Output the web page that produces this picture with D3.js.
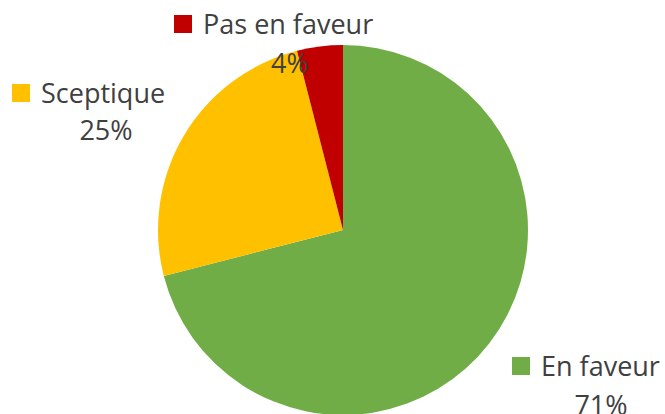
<!DOCTYPE html>
<html>
<head>
<meta charset="utf-8">
<title>Avis</title>
<script src="https://cdnjs.cloudflare.com/ajax/libs/d3/7.8.5/d3.min.js"></script>
<style>
  body, html { margin: 0; padding: 0; background: #fff; }
  text { font-family: "Open Sans", "Noto Sans", sans-serif; fill: #404040; }
</style>
</head>
<body>
<svg id="chart" width="665" height="414"></svg>
<script>
var categories = ['En faveur', 'Sceptique', 'Pas en faveur'];
var values = [71, 25, 4];
var colors = ['#70AD47', '#FFC000', '#C00000'];

// label anchors (legend-key square + name, percent below)
var labelPos = [
    {x: 512, y: 376, px: 601, py: 415},
    {x: 12, y: 103, px: 106, py: 140},
    {x: 174, y: 34, px: 290, py: 73}
];

var svg = d3.select('#chart');
var cx = 343, cy = 230, r = 185;

var pie = d3.pie().sort(null).value(function (d) { return d; });
var arc = d3.arc().innerRadius(0).outerRadius(r);

var g = svg.append('g').attr('transform', 'translate(' + cx + ',' + cy + ')');
g.selectAll('path')
    .data(pie(values))
    .enter()
    .append('path')
    .attr('d', arc)
    .attr('fill', function (d, i) { return colors[i]; });

var labels = svg.selectAll('g.lab')
    .data(categories)
    .enter()
    .append('g')
    .attr('class', 'lab');

labels.append('rect')
    .attr('x', function (d, i) { return labelPos[i].x; })
    .attr('y', function (d, i) { return labelPos[i].y - 19; })
    .attr('width', 18)
    .attr('height', 18)
    .attr('fill', function (d, i) { return colors[i]; });

labels.append('text')
    .attr('x', function (d, i) { return labelPos[i].x + 29; })
    .attr('y', function (d, i) { return labelPos[i].y; })
    .style('font-size', '27px')
    .text(function (d) { return d; });

labels.append('text')
    .attr('x', function (d, i) { return labelPos[i].px; })
    .attr('y', function (d, i) { return labelPos[i].py; })
    .attr('text-anchor', 'middle')
    .style('font-size', '27px')
    .text(function (d, i) { return values[i] + '%'; });
</script>
</body>
</html>
